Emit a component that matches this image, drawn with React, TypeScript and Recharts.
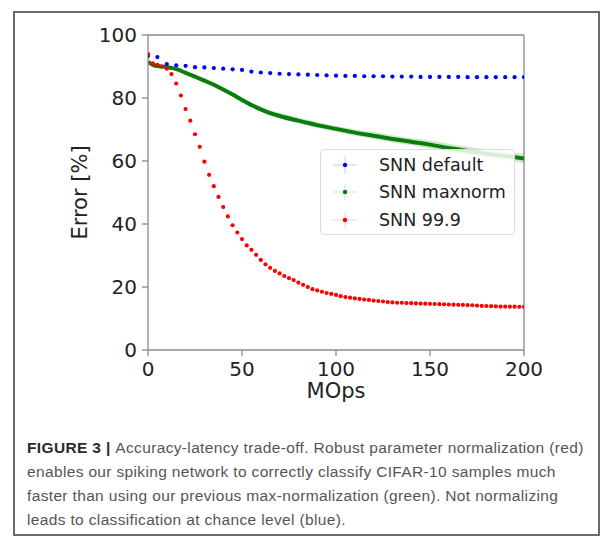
import React from 'react';
import {
  ComposedChart,
  Scatter,
  Line,
  Area,
  XAxis,
  YAxis,
  ReferenceLine,
  Legend,
} from 'recharts';

// axis ticks
const xTicks = [0, 50, 100, 150, 200];
const yTicks = [0, 20, 40, 60, 80, 100];

// SNN default (blue)
const defaultX = [0, 5, 10, 15, 20, 25, 30, 35, 40, 45, 50, 55, 60, 65, 70, 75, 80, 85, 90, 95, 100,
  105, 110, 115, 120, 125, 130, 135, 140, 145, 150, 155, 160, 165, 170, 175, 180, 185, 190, 195, 200];
const defaultErr = [93.4, 93.0, 90.8, 90.4, 90.2, 89.8, 89.7, 89.5, 89.3, 89.1, 88.9, 88.4, 88.1, 87.9, 87.7,
  87.6, 87.5, 87.4, 87.3, 87.2, 87.1, 87.0, 87.0, 86.9, 86.9, 86.9, 86.8, 86.8, 86.8, 86.7, 86.7, 86.7,
  86.7, 86.7, 86.6, 86.6, 86.6, 86.6, 86.6, 86.6, 86.6];

// SNN maxnorm (green) with its spread
const maxnormX = [0, 3, 6, 9, 12, 15, 20, 25, 30, 35, 40, 45, 50, 55, 60, 65, 70, 80, 90, 100, 110, 120,
  130, 140, 150, 160, 170, 180, 190, 200];
const maxnormErr = [91.5, 90.4, 90.1, 89.9, 89.6, 89.2, 88.0, 86.8, 85.5, 84.2, 82.7, 81.1, 79.4, 77.8,
  76.4, 75.2, 74.3, 72.8, 71.4, 70.2, 69.0, 68.0, 67.0, 66.1, 65.2, 64.1, 63.2, 62.3, 61.6, 60.8];
const maxnormLo = [91.0, 89.9, 89.6, 89.4, 89.1, 88.7, 87.4, 86.1, 84.8, 83.5, 82.0, 80.4, 78.6, 77.0,
  75.6, 74.3, 73.4, 71.9, 70.5, 69.3, 68.0, 67.0, 65.9, 65.0, 64.0, 62.9, 62.0, 61.0, 60.2, 59.3];
const maxnormHi = [92.0, 90.9, 90.6, 90.4, 90.1, 89.7, 88.6, 87.4, 86.2, 84.9, 83.4, 81.8, 80.2, 78.6,
  77.3, 76.1, 75.2, 73.8, 72.4, 71.2, 70.1, 69.2, 68.2, 67.3, 66.5, 65.5, 64.6, 63.7, 63.0, 62.3];

// SNN 99.9 (red)
const p999X = [0, 2.5, 5, 7.5, 10, 12.5, 15, 17.5, 20, 22.5, 25, 27.5, 30, 32.5, 35, 37.5, 40, 42.5, 45,
  47.5, 50, 52.5, 55, 57.5, 60, 62.5, 65, 67.5, 70, 72.5, 75, 77.5, 80, 82.5, 85, 87.5, 90, 92.5, 95, 97.5,
  100, 102.5, 105, 107.5, 110, 112.5, 115, 117.5, 120, 122.5, 125, 127.5, 130, 132.5, 135, 137.5, 140,
  142.5, 145, 147.5, 150, 152.5, 155, 157.5, 160, 162.5, 165, 167.5, 170, 172.5, 175, 177.5, 180, 182.5,
  185, 187.5, 190, 192.5, 195, 197.5, 200];
const p999Err = [93.9, 91.0, 90.5, 90.0, 89.3, 87.6, 84.6, 80.8, 76.5, 72.8, 68.5, 64.5, 59.8, 55.6, 52.0,
  48.6, 45.4, 42.4, 39.6, 37.3, 35.2, 33.2, 31.8, 30.2, 28.6, 27.2, 26.1, 25.1, 24.3, 23.5, 22.8, 22.2,
  21.4, 20.7, 20.0, 19.3, 18.9, 18.5, 18.1, 17.8, 17.5, 17.1, 16.8, 16.6, 16.4, 16.2, 16.0, 15.9, 15.7,
  15.55, 15.4, 15.2, 15.1, 15.0, 15.0, 14.9, 14.85, 14.8, 14.75, 14.7, 14.65, 14.6, 14.55, 14.5, 14.45,
  14.4, 14.35, 14.3, 14.25, 14.2, 14.1, 14.0, 13.97, 13.9, 13.85, 13.8, 13.8, 13.75, 13.75, 13.7, 13.7];

const seriesNames = ['SNN default', 'SNN maxnorm', 'SNN 99.9'];
const seriesColors = ['#0000ff', '#008000', '#ff0000'];

const captionLines = [
  'Accuracy-latency trade-off. Robust parameter normalization (red)',
  'enables our spiking network to correctly classify CIFAR-10 samples much',
  'faster than using our previous max-normalization (green). Not normalizing',
  'leads to classification at chance level (blue).',
];

const defaultData = defaultX.map((x, i) => ({ x, y: defaultErr[i] }));
const maxnormData = maxnormX.map((x, i) => ({ x, y: maxnormErr[i], band: [maxnormLo[i], maxnormHi[i]] }));
const p999Data = p999X.map((x, i) => ({ x, y: p999Err[i] }));

const tickStyle = { fontSize: 20, fill: '#222', fontFamily: 'DejaVu Sans' };
const labelStyle = { fontSize: 21, fill: '#222', fontFamily: 'DejaVu Sans' };
const axisColor = '#8a8a8a';

const dot = (color: string) => (props: any) => (
  <circle cx={props.cx} cy={props.cy} r={2.1} fill={color} />
);

function LegendBox() {
  return (
    <div
      style={{
        width: 195,
        height: 86,
        boxSizing: 'border-box',
        background: 'rgba(255,255,255,0.85)',
        border: '1px solid #dcdcdc',
        borderRadius: 4,
        paddingTop: 1,
        fontFamily: 'DejaVu Sans',
        fontSize: 17.5,
        color: '#222',
      }}
    >
      {seriesNames.map((name, i) => (
        <div key={name} style={{ height: 27.5, display: 'flex', alignItems: 'center' }}>
          <svg width={58} height={22} style={{ flex: 'none' }}>
            <line x1={12} x2={36} y1={11} y2={11} stroke={seriesColors[i]} strokeOpacity={0.2} strokeWidth={1} />
            <line x1={24} x2={24} y1={2} y2={20} stroke={seriesColors[i]} strokeOpacity={0.2} strokeWidth={1} />
            <circle cx={24} cy={11} r={2.2} fill={seriesColors[i]} />
          </svg>
          <span>{name}</span>
        </div>
      ))}
    </div>
  );
}

export default function App() {
  return (
    <div style={{ position: 'absolute', left: 0, top: 0, width: 607, height: 546, background: '#fff', fontFamily: 'DejaVu Sans' }}>
      <div
        style={{
          position: 'absolute',
          left: 13,
          top: 11,
          width: 587,
          height: 525,
          boxSizing: 'border-box',
          border: '2px solid #6a6a6a',
        }}
      />
      <div style={{ position: 'absolute', left: 0, top: 0 }}>
        <ComposedChart width={607} height={420} margin={{ top: 35, right: 83, bottom: 15, left: 60 }}>
          <XAxis
            type="number"
            dataKey="x"
            domain={[0, 200]}
            ticks={xTicks}
            allowDataOverflow
            stroke={axisColor}
            strokeWidth={1.3}
            tickSize={6}
            tickMargin={6}
            tick={tickStyle}
            height={55}
            label={{ value: 'MOps', position: 'insideBottom', offset: 7, style: labelStyle }}
          />
          <YAxis
            type="number"
            domain={[0, 100]}
            ticks={yTicks}
            allowDataOverflow
            stroke={axisColor}
            strokeWidth={1.3}
            tickSize={6}
            tickMargin={5}
            tick={tickStyle}
            width={88}
            label={{
              value: 'Error [%]',
              angle: -90,
              position: 'insideLeft',
              offset: 20,
              style: { ...labelStyle, textAnchor: 'middle' },
            }}
          />
          <ReferenceLine y={100} stroke={axisColor} strokeWidth={1.3} />
          <ReferenceLine x={200} stroke={axisColor} strokeWidth={1.3} />
          <Area
            data={maxnormData}
            dataKey="band"
            type="monotone"
            stroke="none"
            fill="#5cb85c"
            fillOpacity={0.3}
            isAnimationActive={false}
          />
          <Scatter data={defaultData} dataKey="y" shape={dot(seriesColors[0])} isAnimationActive={false} />
          <Line
            data={maxnormData}
            dataKey="y"
            type="monotone"
            stroke="#0b7d0b"
            strokeWidth={4}
            dot={false}
            isAnimationActive={false}
          />
          <Scatter data={p999Data} dataKey="y" shape={dot(seriesColors[2])} isAnimationActive={false} />
          <Legend
            layout="vertical"
            align="center"
            verticalAlign="middle"
            wrapperStyle={{ left: 320, top: 149, width: 195, height: 86 }}
            content={() => <LegendBox />}
          />
        </ComposedChart>
      </div>
      <div
        style={{
          position: 'absolute',
          left: 27,
          top: 436,
          width: 570,
          fontFamily: 'Liberation Sans',
          fontSize: 15.5,
          letterSpacing: 0.35,
          lineHeight: '24px',
          color: '#555',
          whiteSpace: 'nowrap',
        }}
      >
        {captionLines.map((line, i) => (
          <div key={i}>
            {i === 0 && <b style={{ color: '#2a2a2a' }}>FIGURE 3 | </b>}
            {line}
          </div>
        ))}
      </div>
    </div>
  );
}
